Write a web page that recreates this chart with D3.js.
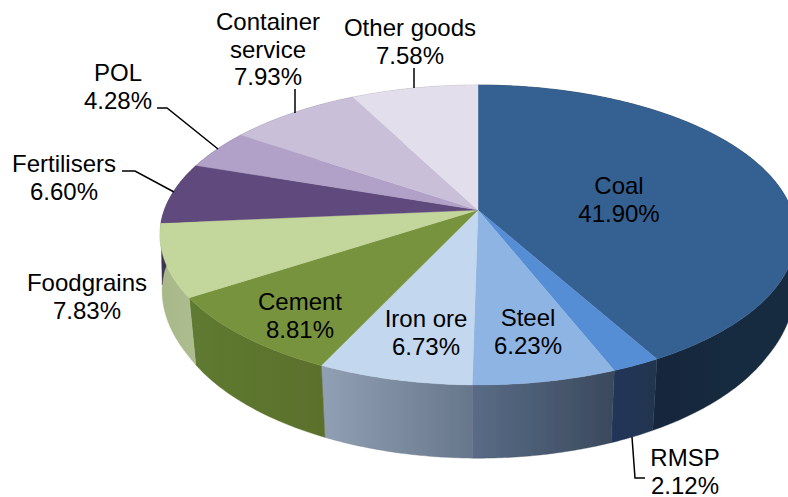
<!DOCTYPE html>
<html><head><meta charset="utf-8">
<script src="https://cdn.jsdelivr.net/npm/d3@7/dist/d3.min.js"></script>
<style>html,body{margin:0;padding:0;background:#fff;overflow:hidden}svg{display:block}</style>
</head><body><div id="chart"></div>
<script>
const categories = ["Coal","RMSP","Steel","Iron ore","Cement","Foodgrains","Fertilisers","POL","Container service","Other goods"];
const values = [41.90,2.12,6.23,6.73,8.81,7.83,6.60,4.28,7.93,7.58];
const valueLabels = ["41.90%","2.12%","6.23%","6.73%","8.81%","7.83%","6.60%","4.28%","7.93%","7.58%"];
const topColors = ["#366092","#558ed5","#8eb4e3","#c3d7ee","#77933c","#c3d69b","#604a7b","#b1a0c7","#c9bfd9","#e3deeb"];
const wallStart = ["#15253a","#20365a","#596c86","#909fb3","#5e7a30","#a9b889","#3f3052","#75698a","#857e90","#96929c"];
const wallEnd   = ["#182a40","#20344f","#3b4a5e","#67778b","#5b702c","#aebd8f","#3f3052","#75698a","#857e90","#96929c"];
const labelLines = [["Coal"],["RMSP"],["Steel"],["Iron ore"],["Cement"],["Foodgrains"],["Fertilisers"],["POL"],["Container","service"],["Other goods"]];
const labelX = [619,685,528,426,300,87,64,118,268,410];
const labelTop = [194,466,326,327,310,291,172,81,30,36];
const leaders = [
  null,
  [[632,437],[635,478],[645,478]],
  null,null,null,null,
  [[122,171],[135,171],[174,192]],
  [[157,108],[167,108],[218,149]],
  [[295,89],[295,113]],
  [[414,68],[414,88]]
];

const W = 788, H = 497;
const cx = 478, cy = 210, R = 313.6, ellipseK = 145.8, persp = 1/6, depth = 61, lowerShrink = 0.023;
const sx = d3.scaleLinear().domain([-1,1]).range([cx-R,cx+R]);
const sy = d3.scaleLinear().domain([-1,1]).range([cy-ellipseK,cy+ellipseK]);
const shrinkAt = d3.scaleLinear().domain([0,0.5]).range([1,1-lowerShrink]).clamp(true);
function project(a, z){
  const X = Math.sin(a), Y = -Math.cos(a), s = 1/(1-persp*Y);
  const shrink = z ? shrinkAt(Y) : 1;
  return [cx + (sx(X*s)-cx)*shrink, sy(Y*s) + z*s];
}
const arcs = d3.pie().sort(null).value(d=>d).startAngle(0).endAngle(2*Math.PI)(values);
const line = d3.line();
const samples = (a0,a1) => { const n = Math.max(2,Math.ceil((a1-a0)/0.01)); return d3.range(n+1).map(i=>a0+(a1-a0)*i/n); };

const svg = d3.select("#chart").append("svg").attr("width",W).attr("height",H).attr("viewBox",`0 0 ${W} ${H}`);
const defs = svg.append("defs");
const blur = defs.append("filter").attr("id","soft").attr("x","-5%").attr("y","-5%").attr("width","110%").attr("height","110%");
blur.append("feGaussianBlur").attr("stdDeviation",0.45);

arcs.forEach((d,i)=>{
  const xs = samples(d.startAngle,d.endAngle).map(a=>project(a,depth)[0]);
  const g = defs.append("linearGradient").attr("id","wall"+i).attr("gradientUnits","userSpaceOnUse")
    .attr("x1",d3.min(xs)).attr("x2",d3.max(xs)).attr("y1",0).attr("y2",0);
  g.append("stop").attr("offset",0).attr("stop-color",wallStart[i]);
  g.append("stop").attr("offset",1).attr("stop-color",wallEnd[i]);
});

const pie3d = svg.append("g").attr("filter","url(#soft)");
pie3d.selectAll("path.wall").data(arcs).join("path").attr("class","wall")
  .attr("d",d=>{
    const as = samples(d.startAngle,d.endAngle);
    return line(as.map(a=>project(a,0)).concat(as.slice().reverse().map(a=>project(a,depth))))+"Z";
  })
  .attr("fill",(d,i)=>`url(#wall${i})`)
  .attr("stroke",(d,i)=>wallEnd[i]).attr("stroke-width",0.4);
pie3d.selectAll("path.face").data(arcs).join("path").attr("class","face")
  .attr("d",d=>line([[cx,cy]].concat(samples(d.startAngle,d.endAngle).map(a=>project(a,0))))+"Z")
  .attr("fill",(d,i)=>topColors[i])
  .attr("stroke",(d,i)=>topColors[i]).attr("stroke-width",0.4);

svg.append("g").selectAll("path").data(leaders.filter(Boolean)).join("path")
  .attr("d",d=>line(d)).attr("fill","none").attr("stroke","#000").attr("stroke-width",1.5);

const lh = 27.5;
const labels = svg.append("g").attr("font-family","'Liberation Sans',Arial,sans-serif").attr("font-size",24)
  .attr("fill","#000").attr("text-anchor","middle");
categories.forEach((c,i)=>{
  const t = labels.append("text").attr("x",labelX[i]).attr("y",labelTop[i]);
  labelLines[i].concat(valueLabels[i]).forEach((s,j)=>{
    t.append("tspan").attr("x",labelX[i]).attr("dy",j?lh:0).text(s);
  });
});
</script></body></html>
